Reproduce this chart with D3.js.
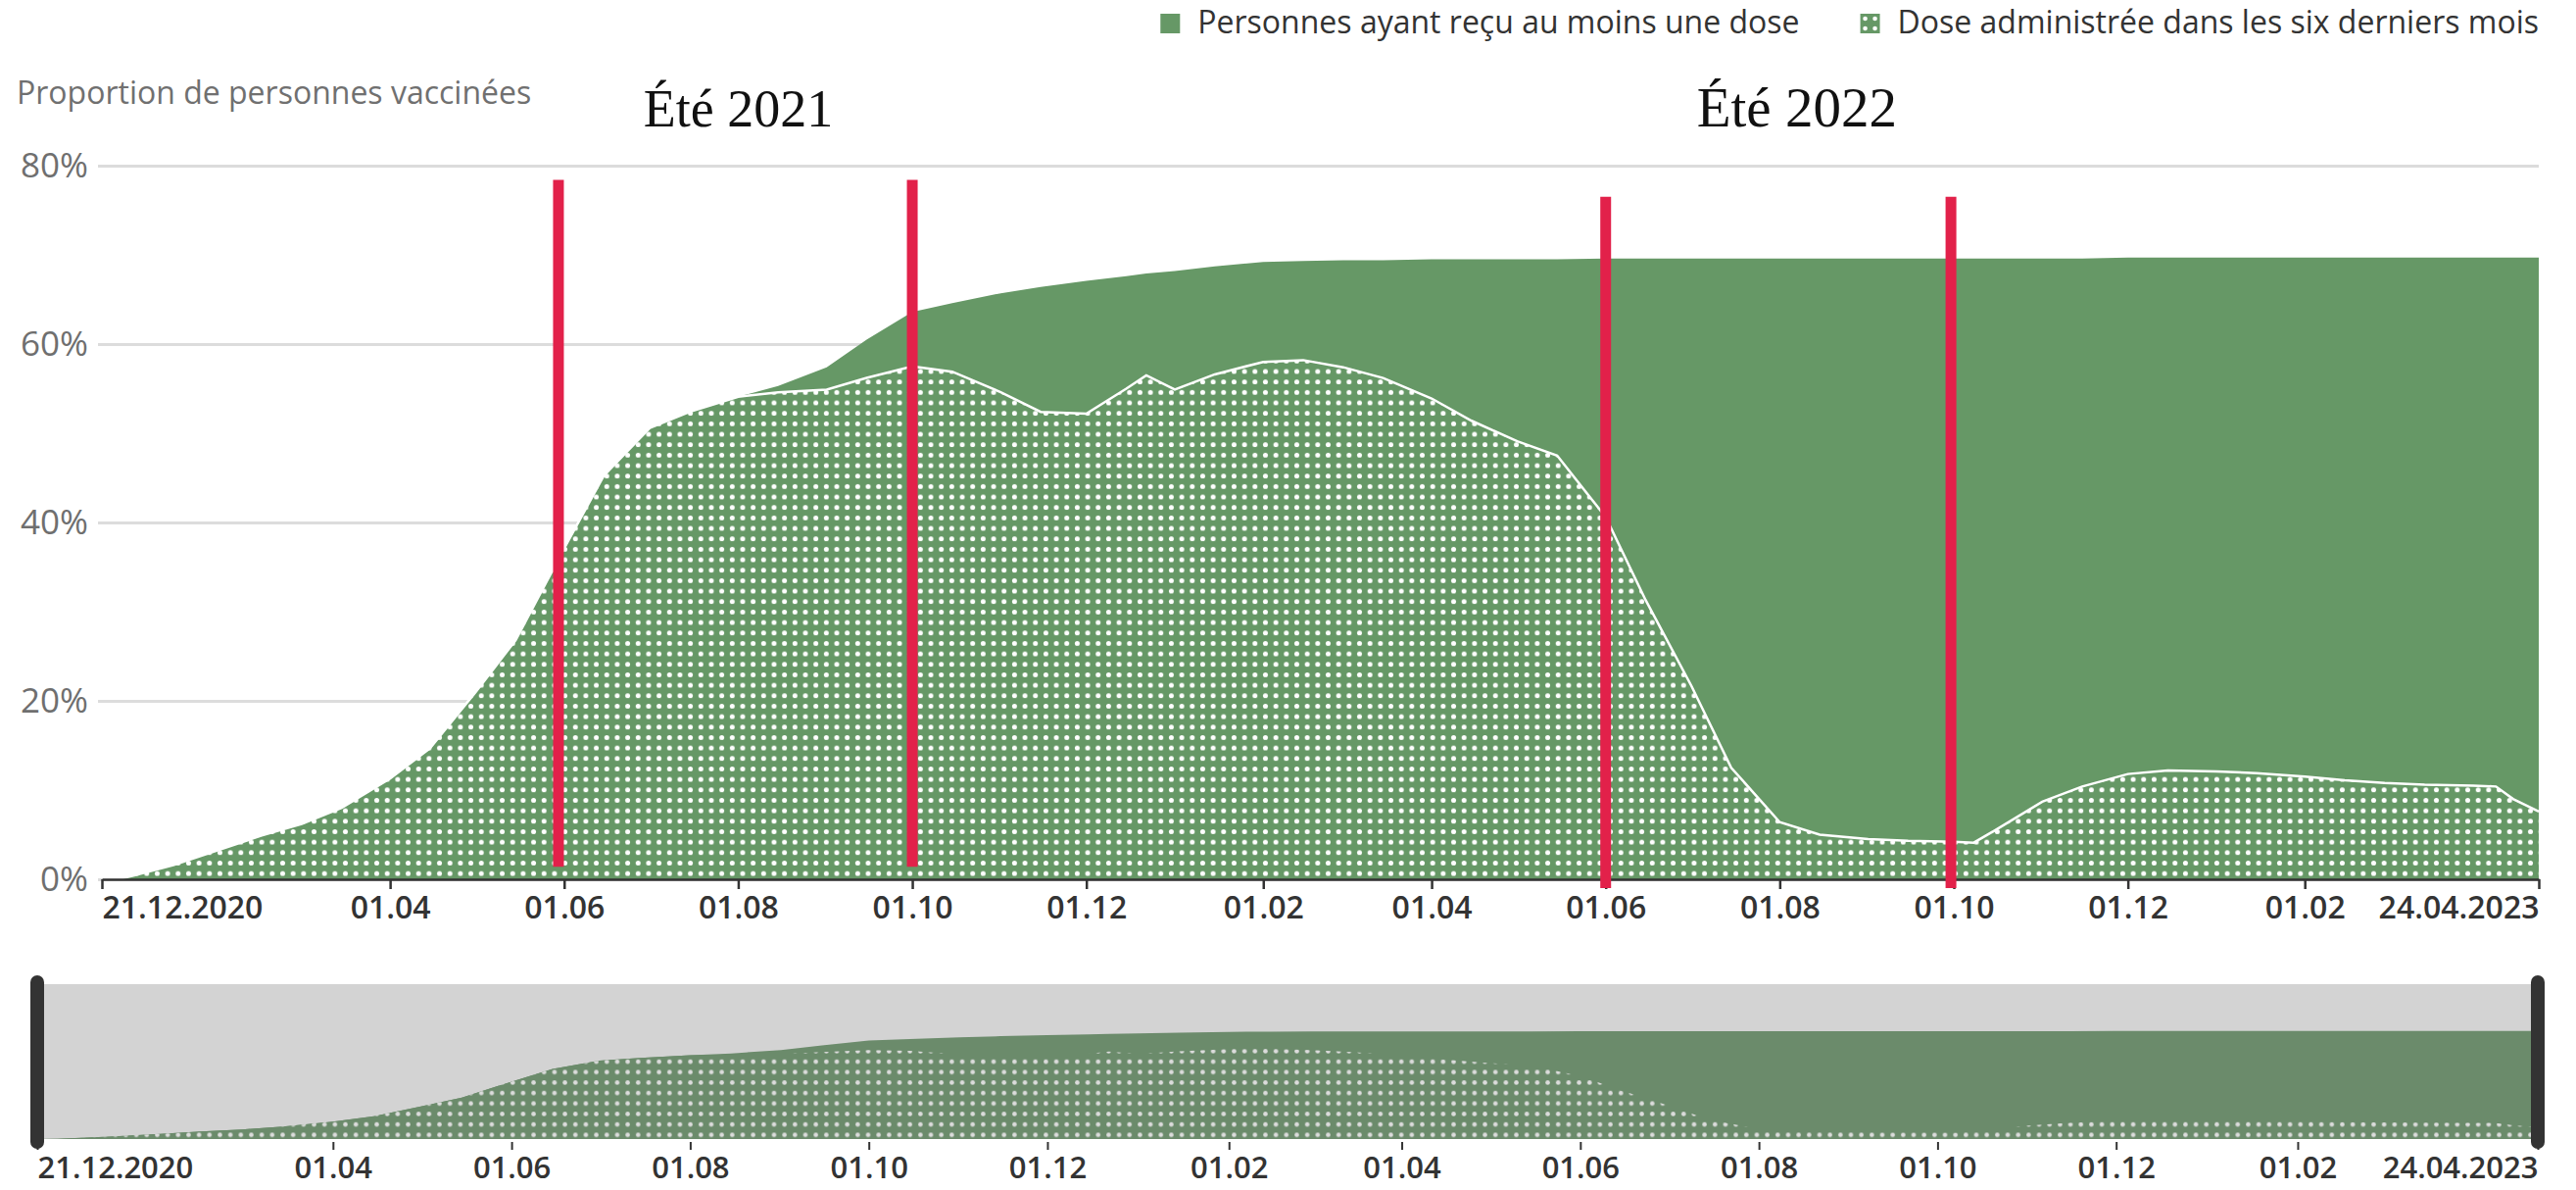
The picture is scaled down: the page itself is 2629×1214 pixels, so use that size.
<!DOCTYPE html>
<html>
<head>
<meta charset="utf-8">
<script src="https://cdn.jsdelivr.net/npm/d3@7"></script>
<style>
  html, body { margin: 0; padding: 0; background: #fff; }
  svg { display: block; font-family: "Open Sans", "Noto Sans", sans-serif; }
</style>
</head>
<body>
<div id="chart"></div>
<script>
// weekly-ish readings of the two series (percent of population)
const dates = [
  "2020-12-21", "2020-12-28", "2021-01-01", "2021-01-15", "2021-02-01", "2021-02-15",
  "2021-03-01", "2021-03-15", "2021-04-01", "2021-04-15", "2021-05-01", "2021-05-15",
  "2021-06-01", "2021-06-15", "2021-07-01", "2021-07-15", "2021-08-01", "2021-08-15",
  "2021-09-01", "2021-09-15", "2021-10-01", "2021-10-15", "2021-11-01", "2021-11-15",
  "2021-12-01", "2021-12-15", "2021-12-22", "2022-01-01", "2022-01-15", "2022-02-01",
  "2022-02-15", "2022-03-01", "2022-03-15", "2022-04-01", "2022-04-15", "2022-05-01",
  "2022-05-15", "2022-06-01", "2022-06-15", "2022-07-01", "2022-07-15", "2022-08-01",
  "2022-08-15", "2022-09-01", "2022-09-15", "2022-10-01", "2022-10-08", "2022-10-15",
  "2022-11-01", "2022-11-15", "2022-12-01", "2022-12-15", "2023-01-01", "2023-01-15",
  "2023-02-01", "2023-02-15", "2023-03-01", "2023-03-15", "2023-04-01", "2023-04-09",
  "2023-04-15", "2023-04-24"
];
const atLeastOneDose = [
  0, 0.1, 0.4, 1.6, 3.4, 4.9,
  6.2, 8.0, 11.3, 14.7, 21.0, 26.8,
  37.1, 45.3, 50.6, 52.4, 54.1, 55.3,
  57.4, 60.5, 63.6, 64.6, 65.7, 66.4,
  67.1, 67.6, 67.9, 68.2, 68.7, 69.2,
  69.3, 69.4, 69.4, 69.5, 69.5, 69.5,
  69.5, 69.6, 69.6, 69.6, 69.6, 69.6,
  69.6, 69.6, 69.6, 69.6, 69.6, 69.6,
  69.6, 69.6, 69.7, 69.7, 69.7, 69.7,
  69.7, 69.7, 69.7, 69.7, 69.7, 69.7,
  69.7, 69.7
];
const doseLastSixMonths = [
  0, 0.1, 0.4, 1.6, 3.4, 4.9,
  6.2, 8.0, 11.3, 14.7, 21.0, 26.8,
  37.1, 45.3, 50.6, 52.4, 54.1, 54.6,
  54.9, 56.2, 57.5, 56.9, 54.6, 52.4,
  52.2, 55.0, 56.5, 54.9, 56.6, 58.0,
  58.2, 57.4, 56.2, 53.9, 51.4, 49.1,
  47.5, 40.6, 31.3, 21.7, 12.5, 6.4,
  5.0, 4.5, 4.3, 4.2, 4.1, 5.4,
  8.7, 10.4, 11.8, 12.2, 12.1, 11.9,
  11.5, 11.1, 10.8, 10.6, 10.5, 10.4,
  9.0, 7.6
];

const seriesNames = [
  "Personnes ayant reçu au moins une dose",
  "Dose administrée dans les six derniers mois"
];
const yAxisTitle = "Proportion de personnes vaccinées";
const yTicks = [0, 20, 40, 60, 80];
const xTicks = [
  "2020-12-21", "2021-04-01", "2021-06-01", "2021-08-01", "2021-10-01", "2021-12-01",
  "2022-02-01", "2022-04-01", "2022-06-01", "2022-08-01", "2022-10-01", "2022-12-01",
  "2023-02-01", "2023-04-24"
];

// hand-drawn summer markers (dates and vertical extent in %)
const summerLabels = ["Été 2021", "Été 2022"];
const summerLabelDates = ["2021-08-01", "2022-08-07"];
const summerLines = [
  ["2021-05-30", "2021-10-01"],
  ["2022-06-01", "2022-09-30"]
];
const summerLineRange = [[78.4, 1.4], [76.5, -1.0]];

const parse = d3.timeParse("%Y-%m-%d");
const data = dates.map((d, i) => ({
  date: parse(d),
  one: atLeastOneDose[i],
  six: doseLastSixMonths[i]
}));

const W = 2629, H = 1214;
const green = "#669866";
const navGreen = "#6b8b6b";

const svg = d3.select("#chart").append("svg")
  .attr("width", W)
  .attr("height", H);

// main scales
const x = d3.scaleTime()
  .domain([parse(dates[0]), parse(dates[dates.length - 1])])
  .range([104, 2591]);
const y = d3.scaleLinear()
  .domain([0, 80])
  .range([897, 169]);

// navigator scales
const xNav = d3.scaleTime()
  .domain(x.domain())
  .range([38, 2590]);
const yNav = d3.scaleLinear()
  .domain([0, 100])
  .range([1162, 1004]);

// dot patterns
const defs = svg.append("defs");
function dotPattern(id, bg, dot, r) {
  const p = defs.append("pattern")
    .attr("id", id)
    .attr("patternUnits", "userSpaceOnUse")
    .attr("x", -4.93)
    .attr("y", 0.17)
    .attr("width", 10.67)
    .attr("height", 10.67);
  p.append("rect").attr("width", 10.67).attr("height", 10.67).attr("fill", bg);
  p.append("circle").attr("cx", 5.33).attr("cy", 5.33).attr("r", r).attr("fill", dot);
}
dotPattern("dots", green, "#fff", 2.5);
dotPattern("dotsNav", navGreen, "#dcdcdc", 2.3);

// y grid + labels
const yAxis = d3.axisLeft(y)
  .tickValues(yTicks)
  .tickSize(-(2591 - 100))
  .tickPadding(10)
  .tickFormat(d => d + "%");

const gy = svg.append("g")
  .attr("transform", "translate(100,0)")
  .call(yAxis);
gy.select(".domain").remove();
gy.selectAll(".tick line").attr("stroke", "#dcdcdc").attr("stroke-width", 3);
gy.selectAll(".tick text")
  .attr("fill", "#6f6f6f")
  .attr("font-size", 35)
  .attr("font-family", "Open Sans");

svg.append("text")
  .attr("x", 17)
  .attr("y", 106)
  .attr("fill", "#707070")
  .attr("font-size", 32)
  .text(yAxisTitle);

// areas
const areaOne = d3.area()
  .x(d => x(d.date))
  .y0(y(0))
  .y1(d => y(d.one));
const areaSix = d3.area()
  .x(d => x(d.date))
  .y0(y(0))
  .y1(d => y(d.six));
const lineSix = d3.line()
  .x(d => x(d.date))
  .y(d => y(d.six));

svg.append("path")
  .datum(data)
  .attr("d", areaOne)
  .attr("fill", green);

svg.append("path")
  .datum(data)
  .attr("d", areaSix)
  .attr("fill", "url(#dots)");

svg.append("path")
  .datum(data)
  .attr("d", lineSix)
  .attr("fill", "none")
  .attr("stroke", "#fff")
  .attr("stroke-width", 2.5);

// x axis
const fmtShort = d3.timeFormat("%d.%m");
const fmtLong = d3.timeFormat("%d.%m.%Y");
const tickDates = xTicks.map(parse);
const lastIdx = tickDates.length - 1;

const xAxis = d3.axisBottom(x)
  .tickValues(tickDates)
  .tickSize(10)
  .tickSizeOuter(0)
  .tickPadding(7)
  .tickFormat((d, i) => (i === 0 || i === lastIdx) ? fmtLong(d) : fmtShort(d));

const gx = svg.append("g")
  .attr("transform", `translate(0,${y(0)})`)
  .call(xAxis);
gx.select(".domain").attr("stroke", "#333").attr("stroke-width", 2.5);
gx.selectAll(".tick line").attr("stroke", "#333").attr("stroke-width", 2.5);
gx.selectAll(".tick text")
  .attr("fill", "#333")
  .attr("font-size", 32)
  .attr("font-weight", 600)
  .attr("font-family", "Open Sans")
  .attr("text-anchor", (d, i) => i === 0 ? "start" : (i === lastIdx ? "end" : "middle"));

// summer markers
summerLines.forEach((pair, k) => {
  pair.forEach(d => {
    svg.append("line")
      .attr("x1", x(parse(d)))
      .attr("x2", x(parse(d)))
      .attr("y1", y(summerLineRange[k][0]))
      .attr("y2", y(summerLineRange[k][1]))
      .attr("stroke", "#e2214a")
      .attr("stroke-width", 11);
  });
  svg.append("text")
    .attr("x", x(parse(summerLabelDates[k])))
    .attr("y", 129)
    .attr("text-anchor", "middle")
    .attr("font-family", "'Liberation Serif', 'DejaVu Serif', serif")
    .attr("font-size", k === 0 ? 54 : 57)
    .attr("fill", "#111")
    .text(summerLabels[k]);
});

// legend, right-aligned with the plot
const legend = svg.append("g");
let right = 2591;
for (let i = seriesNames.length - 1; i >= 0; i--) {
  const t = legend.append("text")
    .attr("y", 34)
    .attr("fill", "#333")
    .attr("font-size", 32)
    .attr("font-weight", 500)
    .attr("text-anchor", "end")
    .attr("x", right)
    .text(seriesNames[i]);
  const w = t.node().getComputedTextLength();
  const sx = right - w - 38;
  const sq = legend.append("g").attr("transform", `translate(${sx},14)`);
  sq.append("rect").attr("width", 20).attr("height", 20).attr("fill", green);
  if (i === 1) {
    [[5, 5], [15, 5], [5, 15], [15, 15]].forEach(c => {
      sq.append("circle").attr("cx", c[0]).attr("cy", c[1]).attr("r", 2.3).attr("fill", "#fff");
    });
  }
  right = sx - 62;
}

// navigator
const nav = svg.append("g");
nav.append("rect")
  .attr("x", xNav.range()[0])
  .attr("y", yNav(100))
  .attr("width", xNav.range()[1] - xNav.range()[0])
  .attr("height", yNav(0) - yNav(100))
  .attr("fill", "#d3d3d3");

nav.append("path")
  .datum(data)
  .attr("d", d3.area().x(d => xNav(d.date)).y0(yNav(0)).y1(d => yNav(d.one)))
  .attr("fill", navGreen);
nav.append("path")
  .datum(data)
  .attr("d", d3.area().x(d => xNav(d.date)).y0(yNav(0)).y1(d => yNav(d.six)))
  .attr("fill", "url(#dotsNav)");

const navAxis = d3.axisBottom(xNav)
  .tickValues(tickDates)
  .tickSize(8)
  .tickSizeOuter(0)
  .tickPadding(7)
  .tickFormat((d, i) => (i === 0 || i === lastIdx) ? fmtLong(d) : fmtShort(d));

const gNav = nav.append("g")
  .attr("transform", `translate(0,${yNav(0) + 3})`)
  .call(navAxis);
gNav.select(".domain").remove();
gNav.selectAll(".tick line").attr("stroke", "#333").attr("stroke-width", 2);
gNav.selectAll(".tick text")
  .attr("fill", "#333")
  .attr("font-size", 31)
  .attr("font-weight", 600)
  .attr("font-family", "Open Sans")
  .attr("text-anchor", (d, i) => i === 0 ? "start" : (i === lastIdx ? "end" : "middle"));

// handles at both ends of the brush
xNav.range().forEach(px => {
  nav.append("rect")
    .attr("x", px - 7)
    .attr("y", 995)
    .attr("width", 14)
    .attr("height", 177)
    .attr("rx", 7)
    .attr("fill", "#333");
});
</script>
</body>
</html>
